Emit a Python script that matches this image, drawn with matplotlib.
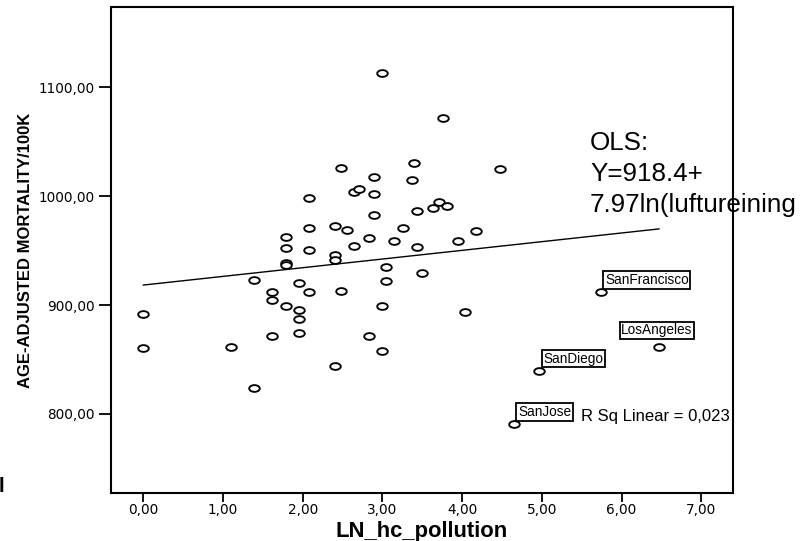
import numpy as np
import matplotlib
matplotlib.use('Agg')
import matplotlib.pyplot as plt
from matplotlib.path import Path
from matplotlib.transforms import Affine2D
from matplotlib import font_manager

# datos
ln_hc = [0.00, 0.00, 1.10, 1.39, 1.39, 1.61, 1.61, 1.61, 1.79, 1.79,
         1.79, 1.79, 1.79, 1.95, 1.95, 1.95, 1.95, 2.08, 2.08, 2.08,
         2.08, 2.40, 2.40, 2.40, 2.40, 2.48, 2.48, 2.56, 2.64, 2.64,
         2.71, 2.83, 2.83, 2.89, 2.89, 2.89, 3.00, 3.00, 3.00, 3.04,
         3.04, 3.14, 3.26, 3.37, 3.40, 3.43, 3.43, 3.50, 3.64, 3.71,
         3.76, 3.81, 3.95, 4.03, 4.17, 4.48, 4.65, 4.97, 5.74, 6.47]
mortality = [891.8, 860.3, 861.5, 823.8, 923.5, 912.3, 904.4, 871.3, 962.6, 952.8,
             938.7, 936.4, 899.6, 919.9, 895.8, 887.5, 874.2, 997.9, 971.2, 950.8,
             911.9, 972.4, 946.3, 941.3, 844.1, 912.5, 1025.8, 968.8, 954.7, 1004.0,
             1006.5, 961.2, 871.8, 982.5, 1018.0, 1002.2, 1113.5, 899.6, 857.6, 935.0,
             922.1, 959.0, 970.6, 1015.3, 1030.2, 953.7, 986.2, 929.3, 989.5, 994.7,
             1071.5, 991.4, 959.3, 894.1, 968.3, 1025.3, 790.6, 839.7, 911.8, 861.8]

city_names = ['SanFrancisco', 'LosAngeles', 'SanDiego', 'SanJose']
city_idx = [58, 59, 57, 56]

intercept = 918.4
slope = 7.97
ols_lines = ['OLS:', 'Y=918.4+', '7.97ln(luftureining']
rsq_text = 'R Sq Linear = 0,023'

xticks = [0, 1, 2, 3, 4, 5, 6, 7]
xtick_labels = ['0,00', '1,00', '2,00', '3,00', '4,00', '5,00', '6,00', '7,00']
yticks = [800, 900, 1000, 1100]
ytick_labels = ['800,00', '900,00', '1000,00', '1100,00']

W, H = 803, 541
fig = plt.figure(figsize=(W / 100, H / 100), dpi=100)
ax = fig.add_axes([111.5 / W, 1 - 492.7 / H, (732.7 - 111.5) / W, (492.7 - 7.3) / H])

# marcador eliptico como en SPSS
ell = Path.unit_circle().transformed(Affine2D().scale(1, 0.64))
ax.plot(ln_hc, mortality, linestyle='none', marker=ell, markersize=7.6,
        markerfacecolor='white', markeredgecolor='black', markeredgewidth=1.35, zorder=3)

xl = np.array([min(ln_hc), max(ln_hc)])
ax.plot(xl, intercept + slope * xl, color='black', linewidth=1.0, zorder=2)

ax.set_xlim(-0.40, 7.395)
ax.set_ylim(727.7, 1173.5)

ax.set_xticks(xticks)
ax.set_xticklabels(xtick_labels, family='DejaVu Sans', fontsize=9.8)
ax.set_yticks(yticks)
ax.set_yticklabels(ytick_labels, family='DejaVu Sans', fontsize=9.8)
ax.tick_params(axis='x', length=6.5, width=1.3, pad=1.0, direction='out')
ax.tick_params(axis='y', length=8.4, width=1.3, pad=3.4, direction='out')
for s in ax.spines.values():
    s.set_linewidth(1.5)

# etiquetas de ciudades
for name, i in zip(city_names, city_idx):
    if name == 'LosAngeles':
        off, ha = (-1.5, 6.7), 'center'
    else:
        off, ha = (3.0, 3.7), 'left'
    ax.annotate(name, (ln_hc[i], mortality[i]), xytext=off, textcoords='offset points',
                ha=ha, va='bottom', fontsize=9.8, family='Liberation Sans',
                bbox=dict(boxstyle='square,pad=0.12', fc='white', ec='black', lw=1.3),
                zorder=4)

ax.text(5.492, 794.0, rsq_text, fontsize=12, family='Liberation Sans', va='baseline')

for k, line in enumerate(ols_lines):
    ax.annotate(line, (5.605, 1042.2), xytext=(0, -22.4 * k), textcoords='offset points',
                fontsize=18.7, family='Liberation Sans', va='baseline', ha='left',
                annotation_clip=False)

# etiquetas de ejes
names = {f.name for f in font_manager.fontManager.ttflist}
if 'Liberation Sans Narrow' in names:
    fig.text(26 / W, 1 - 250 / H, 'AGE-ADJUSTED MORTALITY/100K', rotation=90,
             ha='center', va='center', fontsize=14.5, fontweight='bold',
             family='Liberation Sans Narrow')
else:
    fig.text(26 / W, 1 - 250 / H, 'AGE-ADJUSTED MORTALITY/100K', rotation=90,
             ha='center', va='center', fontsize=12, fontweight='bold',
             family='Liberation Sans')
fig.text(422 / W, 1 - 537 / H, 'LN_hc_pollution', ha='center', va='baseline',
         fontsize=15.8, fontweight='bold', family='Liberation Sans')

# resto de un caracter cortado en el borde izquierdo
fig.text(-1.4 / W, 1 - 491.7 / H, 'l', fontsize=14.8, fontweight='bold',
         family='Liberation Sans', va='baseline', ha='left')

fig.savefig('out.png', dpi=100)
